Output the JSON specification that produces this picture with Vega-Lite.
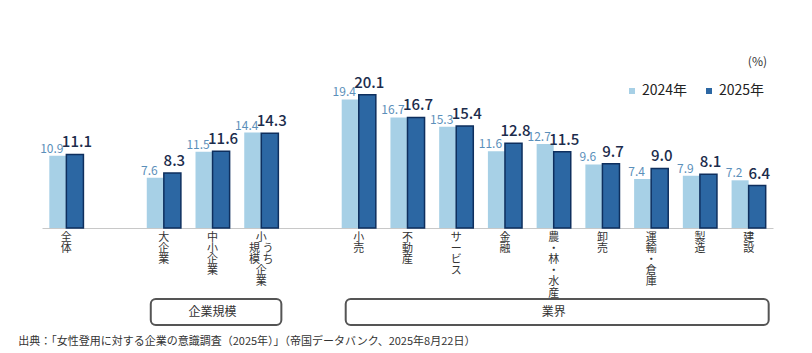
{
  "$schema": "https://vega.github.io/schema/vega-lite/v6.json",
  "background": "white",
  "padding": {"left": 18, "top": 56, "right": 10, "bottom": 6},
  "spacing": 0,
  "config": {"view": {"stroke": null}, "font": "Noto Sans CJK JP"},
  "title": {
    "text": "出典：「女性登用に対する企業の意識調査（2025年）」（帝国データバンク、2025年8月22日）",
    "orient": "bottom", "anchor": "start", "fontSize": 11, "fontWeight": "normal",
    "color": "#333333", "offset": 10, "dx": -22
  },
  "datasets": {
    "bars": [
      {"category": "全体", "year": "2024年", "value": 10.9},
      {"category": "全体", "year": "2025年", "value": 11.1},
      {"category": "大企業", "year": "2024年", "value": 7.6},
      {"category": "大企業", "year": "2025年", "value": 8.3},
      {"category": "中小企業", "year": "2024年", "value": 11.5},
      {"category": "中小企業", "year": "2025年", "value": 11.6},
      {"category": "小規模企業", "year": "2024年", "value": 14.4},
      {"category": "小規模企業", "year": "2025年", "value": 14.3},
      {"category": "小売", "year": "2024年", "value": 19.4},
      {"category": "小売", "year": "2025年", "value": 20.1},
      {"category": "不動産", "year": "2024年", "value": 16.7},
      {"category": "不動産", "year": "2025年", "value": 16.7},
      {"category": "サービス", "year": "2024年", "value": 15.3},
      {"category": "サービス", "year": "2025年", "value": 15.4},
      {"category": "金融", "year": "2024年", "value": 11.6},
      {"category": "金融", "year": "2025年", "value": 12.8},
      {"category": "農・林・水産", "year": "2024年", "value": 12.7},
      {"category": "農・林・水産", "year": "2025年", "value": 11.5},
      {"category": "卸売", "year": "2024年", "value": 9.6},
      {"category": "卸売", "year": "2025年", "value": 9.7},
      {"category": "運輸・倉庫", "year": "2024年", "value": 7.4},
      {"category": "運輸・倉庫", "year": "2025年", "value": 9.0},
      {"category": "製造", "year": "2024年", "value": 7.9},
      {"category": "製造", "year": "2025年", "value": 8.1},
      {"category": "建設", "year": "2024年", "value": 7.2},
      {"category": "建設", "year": "2025年", "value": 6.4}
    ],
    "groups": [
      {"group": "企業規模", "from": "大企業", "to": "小規模企業", "mid": "中小企業"},
      {"group": "業界", "from": "小売", "to": "建設", "mid": "農・林・水産"}
    ]
  },
  "vconcat": [
    {
      "width": 731,
      "height": 155,
      "title": {"text": "(%)", "anchor": "end", "fontSize": 12, "fontWeight": "normal", "color": "#333333", "offset": 4, "dx": -6},
      "data": {"name": "bars"},
      "encoding": {
        "x": {
          "field": "category", "type": "nominal", "sort": null,
          "scale": {"domain": ["全体", "_1", "大企業", "中小企業", "小規模企業", "_2", "小売", "不動産", "サービス", "金融", "農・林・水産", "卸売", "運輸・倉庫", "製造", "建設"], "paddingInner": 0.3, "paddingOuter": 0.15},
          "axis": {
            "title": null, "ticks": false, "grid": false, "domainColor": "#c8c8c8", "domainWidth": 1,
            "labelAngle": 0, "labelFontSize": 11, "labelColor": "#333333", "labelLineHeight": 11.2,
            "labelPadding": 3, "labelBaseline": "top", "labelOverlap": false, "labelFlush": false,
            "labelExpr": "datum.value == '小規模企業' ? ['小 　', '規 う', '模 ち', '企 　', '業 　'] : (indexof(datum.value, '_') == 0 ? '' : split(datum.value, ''))"
          }
        },
        "xOffset": {"field": "year", "type": "nominal", "scale": {"domain": ["2024年", "2025年"], "paddingInner": 0, "paddingOuter": 0}},
        "y": {"field": "value", "type": "quantitative", "scale": {"domain": [0, 23.4], "nice": false}, "axis": null}
      },
      "layer": [
        {
          "mark": {"type": "bar", "strokeWidth": 1.5},
          "encoding": {
            "color": {
              "field": "year", "type": "nominal",
              "scale": {"domain": ["2024年", "2025年"], "range": ["#a7d0e6", "#2c67a3"]},
              "legend": {
                "orient": "none", "legendX": 583, "legendY": 11, "direction": "horizontal", "title": null,
                "symbolType": "square", "symbolSize": 36, "symbolStrokeWidth": 0,
                "labelFontSize": 14, "labelColor": "#222222", "columnPadding": 14, "labelOffset": 3
              }
            },
            "stroke": {"condition": {"test": "datum.year == '2025年'", "value": "#0e2f5e"}, "value": "transparent"}
          }
        },
        {
          "transform": [{"filter": "datum.year == '2024年'"}],
          "mark": {"type": "text", "baseline": "alphabetic", "dy": -3, "dx": -6, "fontSize": 12, "color": "#5b8fba"},
          "encoding": {"text": {"field": "value", "type": "quantitative", "format": ".1f"}}
        },
        {
          "transform": [{"filter": "datum.year == '2025年'"}],
          "mark": {"type": "text", "baseline": "alphabetic", "dy": -7, "dx": 2, "fontSize": 15, "fontWeight": 500, "color": "#1c2c4c"},
          "encoding": {"text": {"field": "value", "type": "quantitative", "format": ".1f"}}
        }
      ]
    },
    {
      "width": 731,
      "height": 26,
      "data": {"name": "groups"},
      "layer": [
        {
          "mark": {"type": "rect", "cornerRadius": 5, "fill": "white", "stroke": "#555555", "strokeWidth": 2, "xOffset": 4, "x2Offset": 3},
          "encoding": {
            "x": {
              "field": "from", "type": "nominal", "bandPosition": 0,
              "scale": {"domain": ["全体", "_1", "大企業", "中小企業", "小規模企業", "_2", "小売", "不動産", "サービス", "金融", "農・林・水産", "卸売", "運輸・倉庫", "製造", "建設"], "paddingInner": 0.3, "paddingOuter": 0.15},
              "axis": null
            },
            "x2": {"field": "to", "bandPosition": 1}
          }
        },
        {
          "mark": {"type": "text", "fontSize": 12, "color": "#333333"},
          "encoding": {
            "x": {"field": "mid", "type": "nominal", "axis": null},
            "text": {"field": "group"}
          }
        }
      ]
    }
  ]
}
